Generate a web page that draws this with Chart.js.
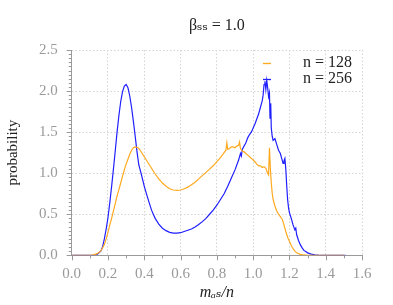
<!DOCTYPE html>
<html>
<head>
<meta charset="utf-8">
<script src="https://cdn.jsdelivr.net/npm/chart.js@4.4.1/dist/chart.umd.min.js"></script>
<style>
html,body{margin:0;padding:0;background:#fff;}
#wrap{width:393px;height:305px;position:relative;}
</style>
</head>
<body>
<div id="wrap"><canvas id="c" width="393" height="305"></canvas></div>
<script>
const titleText = "βₛₛ = 1.0";
const xTitle = "mₐₛ/n";
const yTitle = "probability";
const seriesLabels = ["n = 128", "n = 256"];
const xTicks = [0, 0.2, 0.4, 0.6, 0.8, 1.0, 1.2, 1.4, 1.6];
const yTicks = [0, 0.5, 1.0, 1.5, 2.0, 2.5];

const n128X = [0,0.10,0.12,0.14,0.16,0.18,0.19,0.20,0.21,0.22,0.23,0.24,0.25,0.26,0.27,0.28,0.29,0.30,0.31,0.32,0.33,0.34,0.35,0.36,0.37,0.38,0.40,0.42,0.44,0.46,0.48,0.50,0.52,0.54,0.56,0.58,0.60,0.62,0.64,0.66,0.68,0.70,0.72,0.74,0.76,0.78,0.80,0.82,0.84,0.85,0.855,0.86,0.87,0.88,0.89,0.90,0.91,0.92,0.925,0.93,0.94,0.95,0.96,0.97,0.98,0.99,1.00,1.01,1.02,1.03,1.04,1.05,1.06,1.07,1.08,1.085,1.09,1.095,1.10,1.105,1.11,1.12,1.13,1.14,1.15,1.16,1.17,1.18,1.19,1.20,1.21,1.22,1.23,1.24,1.26,1.28,1.30,1.50];
const n128Y = [0,0,0.005,0.02,0.05,0.13,0.20,0.28,0.37,0.45,0.54,0.63,0.72,0.80,0.88,0.96,1.04,1.11,1.17,1.23,1.28,1.31,1.32,1.315,1.30,1.27,1.20,1.13,1.06,0.99,0.93,0.88,0.84,0.81,0.795,0.79,0.795,0.81,0.83,0.86,0.89,0.93,0.97,1.01,1.05,1.09,1.14,1.19,1.25,1.28,1.37,1.29,1.30,1.32,1.32,1.31,1.33,1.34,1.38,1.30,1.27,1.26,1.24,1.22,1.20,1.18,1.16,1.14,1.11,1.09,1.09,1.07,1.08,1.06,1.00,0.98,1.31,1.05,0.88,0.76,0.68,0.60,0.54,0.50,0.47,0.44,0.37,0.29,0.22,0.17,0.12,0.08,0.05,0.03,0.012,0.004,0,0];

const n256X = [0,0.10,0.12,0.14,0.16,0.17,0.18,0.19,0.20,0.21,0.22,0.23,0.24,0.25,0.26,0.27,0.28,0.29,0.30,0.31,0.32,0.33,0.34,0.35,0.36,0.37,0.38,0.39,0.40,0.42,0.44,0.46,0.48,0.50,0.52,0.54,0.56,0.58,0.60,0.62,0.64,0.66,0.68,0.70,0.72,0.74,0.76,0.78,0.80,0.82,0.84,0.86,0.88,0.90,0.92,0.93,0.935,0.94,0.96,0.97,0.98,0.99,1.00,1.01,1.02,1.03,1.04,1.05,1.055,1.06,1.065,1.07,1.075,1.08,1.085,1.09,1.093,1.097,1.10,1.105,1.11,1.12,1.13,1.14,1.15,1.16,1.165,1.17,1.175,1.18,1.185,1.19,1.195,1.20,1.21,1.22,1.23,1.235,1.24,1.25,1.26,1.27,1.28,1.29,1.30,1.32,1.34,1.36,1.38,1.51];
const n256Y = [0,0,0.003,0.01,0.05,0.10,0.20,0.32,0.46,0.64,0.84,1.05,1.27,1.50,1.70,1.87,1.99,2.06,2.08,2.04,1.94,1.80,1.63,1.45,1.26,1.10,1.02,0.93,0.84,0.69,0.55,0.45,0.38,0.33,0.30,0.28,0.27,0.27,0.275,0.29,0.305,0.32,0.345,0.375,0.41,0.45,0.50,0.55,0.61,0.68,0.75,0.84,0.94,1.04,1.16,1.24,1.21,1.29,1.37,1.43,1.47,1.50,1.55,1.60,1.66,1.72,1.80,1.88,1.95,2.08,2.12,2.02,2.13,2.04,1.93,1.98,1.67,1.85,1.55,1.45,1.40,1.42,1.35,1.28,1.24,1.16,1.12,1.15,1.18,1.05,0.85,0.68,0.58,0.52,0.45,0.37,0.31,0.33,0.25,0.18,0.13,0.09,0.06,0.045,0.03,0.015,0.007,0.002,0,0];

const colors = ["#FFA91F", "#1F1FFF"];
const serif = "'Liberation Serif', 'DejaVu Serif', serif";
const gray = "#9a9a9a";

function pts(xs, ys){ return xs.map((x,i)=>({x:x, y:ys[i]})); }

const minorTicks = {
  id: 'minorTicks',
  afterDraw(chart){
    const ctx = chart.ctx, xs = chart.scales.x, ys = chart.scales.y;
    ctx.save();
    ctx.strokeStyle = gray; ctx.lineWidth = 1;
    ctx.beginPath();
    for (let i = 0; i <= 16; i++) {
      const px = Math.round(xs.getPixelForValue(i/10)) + 0.5;
      ctx.moveTo(px, ys.bottom); ctx.lineTo(px, ys.bottom + (i%2===0 ? 5 : 3));
    }
    for (let i = 0; i <= 50; i++) {
      const py = Math.round(ys.getPixelForValue(i/20)) + 0.5;
      ctx.moveTo(xs.left, py); ctx.lineTo(xs.left - (i%10===0 ? 5 : 3), py);
    }
    ctx.stroke();
    ctx.restore();
  }
};

const legendPlugin = {
  id: 'insideLegend',
  afterDraw(chart){
    const ctx = chart.ctx, area = chart.chartArea;
    ctx.save();
    ctx.font = "16px " + serif;
    ctx.textAlign = 'right';
    ctx.textBaseline = 'middle';
    chart.data.datasets.forEach((ds, i) => {
      const y = area.top + 13 + i*16;
      ctx.strokeStyle = ds.borderColor; ctx.lineWidth = 1.3;
      ctx.beginPath(); ctx.moveTo(area.right - 99, y + 0.5); ctx.lineTo(area.right - 91, y + 0.5); ctx.stroke();
      ctx.fillStyle = '#222';
      ctx.fillText(ds.label, area.right - 10, y);
    });
    ctx.restore();
  }
};

new Chart(document.getElementById('c'), {
  type: 'line',
  data: {
    datasets: [
      {label: seriesLabels[0], data: pts(n128X, n128Y), borderColor: colors[0], borderWidth: 1.2, pointRadius: 0, tension: 0, fill: false},
      {label: seriesLabels[1], data: pts(n256X, n256Y), borderColor: colors[1], borderWidth: 1.2, pointRadius: 0, tension: 0, fill: false}
    ]
  },
  options: {
    responsive: false,
    animation: false,
    layout: {padding: {left: 0, right: 31, top: 0, bottom: 0}},
    plugins: {
      legend: {display: false},
      tooltip: {enabled: false},
      title: {display: true, fullSize: false, text: titleText, color: '#222', font: {family: serif, size: 16, weight: 'normal'}, padding: {top: 16, bottom: 14.8}}
    },
    scales: {
      x: {
        type: 'linear', min: 0, max: 1.6,
        afterBuildTicks(s){ s.ticks = xTicks.map(v=>({value:v})); },
        afterFit(s){ s.height = 49.7; },
        ticks: {callback: v => v.toFixed(1), color: gray, font: {family: serif, size: 15}, padding: 10, maxRotation: 0},
        grid: {color: '#d4d4d4', lineWidth: 1, drawTicks: false, tickLength: 4},
        border: {display: true, color: gray, width: 1, dash: [1.5, 2]},
        title: {display: true, text: xTitle, color: '#222', font: {family: serif, size: 16, style: 'italic'}, padding: {top: 0, bottom: 3}}
      },
      y: {
        type: 'linear', min: 0, max: 2.5,
        afterBuildTicks(s){ s.ticks = yTicks.map(v=>({value:v})); },
        afterFit(s){ s.width = 71.7; },
        ticks: {callback: v => v.toFixed(1), color: gray, font: {family: serif, size: 15}, padding: 14},
        grid: {color: '#d4d4d4', lineWidth: 1, drawTicks: false, tickLength: 4},
        border: {display: true, color: gray, width: 1, dash: [1.5, 2]},
        title: {display: true, text: yTitle, color: '#222', font: {family: serif, size: 15}, padding: {top: 4, bottom: 0}}
      }
    }
  },
  plugins: [minorTicks, legendPlugin]
});
</script>
</body>
</html>
